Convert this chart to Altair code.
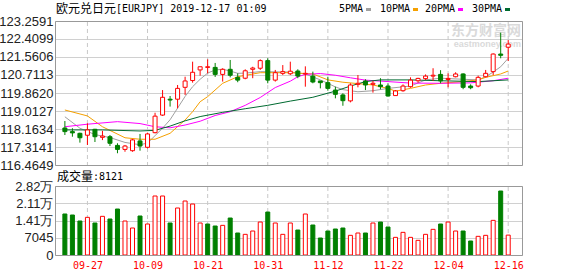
import altair as alt
import pandas as pd

# ---------------- data ----------------
dates = ["09-24", "09-25", "09-26", "09-27", "09-30", "10-01", "10-02", "10-03", "10-04", "10-07",
         "10-08", "10-09", "10-10", "10-11", "10-14", "10-15", "10-16", "10-17", "10-18", "10-21",
         "10-22", "10-23", "10-24", "10-25", "10-28", "10-29", "10-30", "10-31", "11-01", "11-04",
         "11-05", "11-06", "11-07", "11-08", "11-11", "11-12", "11-13", "11-14", "11-15", "11-18",
         "11-19", "11-20", "11-21", "11-22", "11-25", "11-26", "11-27", "11-28", "11-29", "12-02",
         "12-03", "12-04", "12-05", "12-06", "12-09", "12-10", "12-11", "12-12", "12-13", "12-16"]

opens = [118.21, 118.04, 117.96, 117.87, 118.15, 117.77, 117.80, 117.39, 117.20, 117.14,
         117.60, 117.30, 117.99, 118.82, 119.57, 119.57, 120.13, 120.45, 120.95, 121.07,
         121.07, 120.74, 120.98, 120.60, 120.56, 120.98, 121.03, 121.39, 120.47, 120.79,
         120.77, 120.90, 120.76, 120.66, 120.43, 120.35, 120.00, 119.77, 119.49, 120.27,
         120.43, 120.27, 120.24, 120.19, 119.74, 119.97, 120.16, 120.44, 120.54, 120.66,
         120.74, 120.50, 120.63, 120.76, 120.19, 120.19, 120.63, 120.87, 121.70, 122.02]
highs = [118.54, 118.20, 117.99, 118.43, 118.17, 118.08, 117.88, 117.49, 117.41, 117.69,
         117.93, 117.99, 118.93, 120.00, 119.72, 120.24, 120.63, 121.34, 121.10, 121.45,
         121.28, 121.03, 121.42, 120.79, 120.98, 121.10, 121.45, 121.50, 120.95, 121.18,
         121.34, 120.98, 121.12, 120.87, 120.43, 120.63, 120.16, 119.85, 120.32, 120.71,
         120.51, 120.43, 120.56, 120.32, 120.00, 120.27, 120.60, 120.58, 120.74, 121.03,
         120.94, 120.79, 120.84, 120.79, 120.27, 120.68, 120.95, 121.73, 122.71, 122.36]
lows = [117.88, 117.80, 117.52, 117.41, 117.55, 117.64, 117.36, 117.02, 117.09, 117.09,
        117.14, 117.25, 117.96, 118.78, 119.22, 119.14, 119.77, 120.35, 120.68, 120.79,
        120.62, 120.40, 120.60, 120.37, 120.51, 120.56, 120.95, 120.32, 120.40, 120.71,
        120.71, 120.56, 120.16, 120.32, 120.08, 119.97, 119.61, 119.26, 119.42, 120.13,
        120.00, 119.88, 120.04, 119.69, 119.74, 119.92, 120.11, 120.35, 120.47, 120.43,
        120.32, 120.13, 120.60, 120.04, 120.04, 120.13, 120.60, 120.71, 121.50, 121.37]
closes = [118.04, 117.98, 117.75, 118.12, 117.80, 117.83, 117.49, 117.20, 117.36, 117.65,
          117.36, 117.93, 118.77, 119.66, 119.53, 120.08, 120.43, 120.84, 121.10, 121.10,
          120.74, 120.98, 120.70, 120.47, 120.91, 121.04, 121.39, 120.47, 120.82, 120.87,
          120.89, 120.66, 120.79, 120.38, 120.35, 120.08, 119.80, 119.50, 120.24, 120.32,
          120.24, 120.32, 120.16, 119.72, 119.96, 120.19, 120.47, 120.55, 120.66, 120.70,
          120.43, 120.55, 120.76, 120.13, 120.11, 120.60, 120.79, 121.70, 121.64, 122.17]
volumes = [16745, 16335, 13880, 15380, 13065, 15790, 14700, 18780, 13880, 11025,
           15925, 12660, 24090, 24090, 13065, 19190, 22050, 20820, 13065, 12660,
           11840, 12110, 15100, 8980, 8440, 9800, 13470, 17555, 13065, 8440,
           13065, 10200, 16740, 12250, 6940, 9800, 10615, 11025, 8030, 8980,
           8980, 13065, 13470, 11430, 7210, 9250, 7210, 5990, 8440, 10480,
           12660, 13470, 9800, 9800, 5715, 7620, 8030, 14150, 26130, 8121]
vol_up = [0, 0, 0, 1, 0, 1, 0, 0, 1, 1,
          0, 1, 1, 1, 0, 1, 1, 1, 1, 0,
          0, 1, 0, 0, 1, 1, 1, 0, 1, 1,
          1, 0, 1, 0, 0, 0, 0, 0, 1, 1,
          0, 1, 0, 0, 1, 1, 1, 1, 1, 1,
          0, 1, 1, 0, 0, 1, 1, 1, 0, 1]

ma5_idx = [0, 2, 4, 6, 8, 10, 11, 12, 13, 14, 15, 16, 17, 18, 19, 20, 21, 22, 23, 24, 26, 28, 30,
           32, 34, 36, 37, 39, 41, 43, 46, 48, 50, 53, 55, 56, 57, 58, 59]
ma5_val = [118.74, 118.20, 117.90, 117.76, 117.53, 117.42, 117.50, 117.85, 118.20, 118.60, 119.15,
           119.70, 120.16, 120.51, 120.80, 120.95, 120.98, 120.90, 120.79, 120.80, 120.87, 120.86,
           120.85, 120.76, 120.48, 120.15, 120.02, 119.92, 119.97, 120.08, 120.19, 120.48, 120.56,
           120.51, 120.48, 120.63, 120.85, 121.10, 121.50]
ma10_idx = [0, 3, 5, 8, 10, 12, 14, 16, 17, 18, 19, 21, 23, 26, 30, 33, 35, 37, 41, 43, 44, 46,
            48, 50, 53, 55, 56, 58, 59]
ma10_val = [119.06, 118.78, 118.27, 117.75, 117.68, 117.68, 117.96, 118.59, 118.98, 119.45,
            119.69, 120.32, 120.63, 120.82, 120.82, 120.76, 120.48, 120.37, 120.24, 120.08,
            119.95, 120.08, 120.24, 120.32, 120.40, 120.48, 120.60, 120.76, 120.90]
ma20_idx = [0, 3, 7, 10, 12, 14, 16, 18, 20, 22, 24, 26, 28, 30, 31, 32, 34, 36, 38, 40, 43, 46,
            50, 54, 57, 59]
ma20_val = [118.27, 118.39, 118.51, 118.42, 118.27, 118.22, 118.35, 118.53, 118.80, 118.98,
            119.28, 119.65, 120.12, 120.42, 120.63, 120.74, 120.78, 120.70, 120.58, 120.47,
            120.40, 120.33, 120.32, 120.34, 120.44, 120.56]
ma30_idx = [0, 5, 10, 12, 14, 16, 18, 21, 24, 27, 30, 33, 36, 38, 40, 42, 46, 50, 55, 59]
ma30_val = [118.12, 118.12, 118.07, 118.10, 118.30, 118.55, 118.75, 118.95, 119.12, 119.28,
            119.48, 119.66, 119.95, 120.19, 120.40, 120.48, 120.48, 120.44, 120.40, 120.48]

ma_names = ["5PMA", "10PMA", "20PMA", "30PMA"]
ma_colors = ["#a0a0a0", "#f5a000", "#ff00ff", "#006a30"]

price_ticks = [116.4649, 117.3141, 118.1634, 119.0127, 119.8620, 120.7113, 121.5606, 122.4099, 123.2591]
vol_ticks = [0, 7045, 14090, 21135, 28180]
date_tick_idx = [3, 11, 19, 27, 35, 43, 51, 59]

title_cn = "欧元兑日元"
title_en = "[EURJPY] 2019-12-17 01:09"
vol_title_cn = "成交量"
vol_title_val = ":8121"

RED = "#ff0000"
GREEN = "#008000"

# ---------------- tables ----------------
n = len(opens)
df = pd.DataFrame({"i": list(range(n)), "date": dates, "open": opens, "high": highs,
                   "low": lows, "close": closes, "vol": volumes, "vup": vol_up})
up = df["close"] >= df["open"]
df["stroke"] = [RED if u else GREEN for u in up]
df["fill"] = ["#ffffff" if u else GREEN for u in up]
df["vstroke"] = [RED if u else GREEN for u in df["vup"]]
df["vfill"] = ["#ffffff" if u else GREEN for u in df["vup"]]
ticks_df = pd.DataFrame({"i": date_tick_idx})
one = pd.DataFrame({"k": [0]})

# layout (pixels inside the plot group)
W = 467
P_TOP, P_BOT = 0, 144        # price panel
V_TOP, V_BOT = 165, 234      # volume panel
H = V_BOT
xdom = [-0.65, 60.17]
date_arr = "[" + ",".join("'%s'" % d for d in dates) + "]"

LABEL_FONT = "Liberation Sans"
MONO = "DejaVu Sans Mono"
CJK = "Noto Sans CJK SC"
GRID = "#d0d0d0"
FRAME = "#999999"

X = alt.X("i:Q", scale=alt.Scale(domain=xdom, nice=False, zero=False),
          axis=alt.Axis(values=date_tick_idx, ticks=False, domain=False, grid=False, title=None,
                        labelExpr=date_arr + "[datum.value]", labelColor=RED,
                        labelFont=MONO, labelFontSize=10, labelPadding=5,
                        labelOverlap=False, labelFlush=False))


def yprice(field):
    return alt.Y(field, type="quantitative",
                 scale=alt.Scale(domain=[price_ticks[0], price_ticks[-1]], range=[P_BOT, P_TOP],
                                 nice=False, zero=False),
                 axis=alt.Axis(values=price_ticks, format=".4f", ticks=False, domain=False,
                               grid=True, gridColor=GRID, title=None, labelFont=LABEL_FONT,
                               labelFontSize=13, labelColor="#222222", labelPadding=2,
                               labelOverlap=False, labelFlush=False, orient="left"))


# frames and vertical dashed grid
frames = []
for y0, y1 in [(P_TOP, P_BOT), (V_TOP, V_BOT)]:
    frames.append(alt.Chart(one).mark_rect(stroke=FRAME, strokeWidth=1, fillOpacity=0).encode(
        x=alt.value(0.5), x2=alt.value(W + 0.5), y=alt.value(y0 + 0.5), y2=alt.value(y1 + 0.5)))
vgrid = []
for y0, y1 in [(P_TOP, P_BOT), (V_TOP, V_BOT)]:
    vgrid.append(alt.Chart(ticks_df).mark_rule(color="#c8c8c8", strokeWidth=1, strokeDash=[4, 3]).encode(
        x=X, y=alt.value(y0 + 1), y2=alt.value(y1)))

# price panel
wicks = alt.Chart(df).mark_rule(strokeWidth=1).encode(
    x=X, y=yprice("low"), y2="high", color=alt.Color("stroke:N", scale=None))
bodies = alt.Chart(df).mark_bar(size=4, strokeWidth=1).encode(
    x=X, y=yprice("open"), y2="close",
    fill=alt.Fill("fill:N", scale=None), stroke=alt.Stroke("stroke:N", scale=None))
ma_layers = []
for idx, vals, col in zip([ma5_idx, ma10_idx, ma20_idx, ma30_idx],
                          [ma5_val, ma10_val, ma20_val, ma30_val], ma_colors):
    mdf = pd.DataFrame({"i": idx, "v": vals})
    ma_layers.append(alt.Chart(mdf).mark_line(strokeWidth=1, color=col).encode(
        x=X, y=yprice("v")))
price = alt.layer(*ma_layers, wicks, bodies)

# volume panel
yvol = alt.Y("vol:Q", scale=alt.Scale(domain=[0, vol_ticks[-1]], range=[V_BOT, V_TOP], nice=False),
             axis=alt.Axis(values=vol_ticks, ticks=False, domain=False, grid=True, orient="left",
                           gridColor=GRID, title=None, labelFont=LABEL_FONT,
                           labelFontSize=13, labelColor="#222222", labelPadding=2,
                           labelOverlap=False, labelFlush=False,
                           labelExpr="datum.value >= 10000 ? format(datum.value / 10000, '.2f') + '万' : format(datum.value, 'd')"))
vbars = alt.Chart(df).mark_bar(size=4, strokeWidth=1).encode(
    x=X, y=yvol,
    fill=alt.Fill("vfill:N", scale=None), stroke=alt.Stroke("vstroke:N", scale=None))

# texts
wm1 = alt.Chart(one).mark_text(align="right", baseline="middle", font=CJK, fontSize=14,
                               fontWeight="bold", color="#dadada").encode(
    x=alt.value(W - 1), y=alt.value(10), text=alt.value("东方财富网"))
wm2 = alt.Chart(one).mark_text(align="right", baseline="middle", font=LABEL_FONT, fontSize=9,
                               fontWeight="bold", color="#dadada").encode(
    x=alt.value(W - 1), y=alt.value(22.5), text=alt.value("eastmoney.com"))
t1 = alt.Chart(one).mark_text(align="left", baseline="middle", font=CJK, fontSize=12,
                              color="#000000").encode(
    x=alt.value(1), y=alt.value(-12.5), text=alt.value(title_cn))
t2 = alt.Chart(one).mark_text(align="left", baseline="middle", font=MONO, fontSize=10,
                              color="#000000").encode(
    x=alt.value(61), y=alt.value(-12.5), text=alt.value(title_en))
legend_layers = []
leg_x = [284, 325, 370, 417]
for name, col, lx in zip(ma_names, ma_colors, leg_x):
    legend_layers.append(alt.Chart(one).mark_text(align="left", baseline="middle", font=MONO,
                                                  fontSize=10, color="#000000").encode(
        x=alt.value(lx), y=alt.value(-12), text=alt.value(name)))
    sw = lx + 6 * len(name) + 3
    legend_layers.append(alt.Chart(one).mark_rect(color=col).encode(
        x=alt.value(sw), x2=alt.value(sw + 5), y=alt.value(-13), y2=alt.value(-10)))
v1 = alt.Chart(one).mark_text(align="left", baseline="middle", font=CJK, fontSize=12,
                              color="#000000").encode(
    x=alt.value(2), y=alt.value(V_TOP - 9), text=alt.value(vol_title_cn))
v2 = alt.Chart(one).mark_text(align="left", baseline="middle", font=MONO, fontSize=10,
                              color="#000000").encode(
    x=alt.value(38), y=alt.value(V_TOP - 9), text=alt.value(vol_title_val))

chart = alt.layer(
    wm1, wm2, *vgrid, price, vbars, *frames, t1, t2, *legend_layers, v1, v2
).resolve_scale(y="independent").properties(
    width=W, height=H,
    autosize=alt.AutoSizeParams(type="none"),
    padding={"left": 55, "top": 21, "right": 578 - 55 - W, "bottom": 276 - 21 - H},
    background="#ffffff",
).configure_view(strokeWidth=0)

chart.save("out.html", embed_options={"renderer": "svg", "actions": False})
